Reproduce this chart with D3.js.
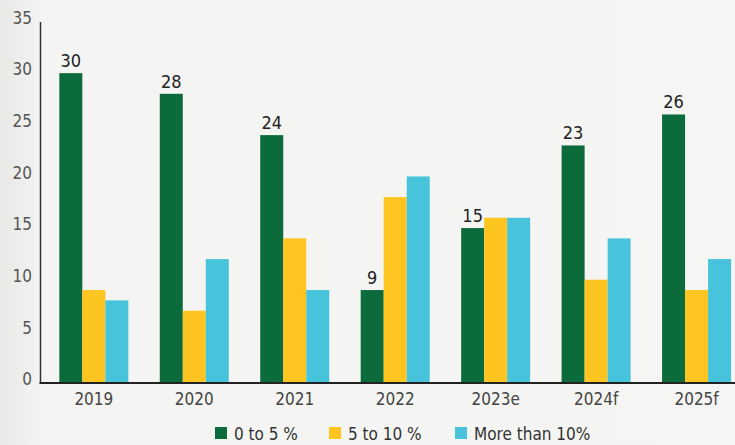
<!DOCTYPE html>
<html>
<head>
<meta charset="utf-8">
<script src="https://cdn.jsdelivr.net/npm/d3@7"></script>
<style>
  html, body { margin: 0; padding: 0; }
  body { width: 735px; height: 445px; overflow: hidden;
         background: linear-gradient(to right, #e8e8e7 0px, #f4f4f2 40px, #f5f5f3 100%); }
  svg { display: block; }
  text { font-family: "DejaVu Sans Condensed", "Liberation Sans Narrow", sans-serif; }
</style>
</head>
<body>
<svg id="chart"></svg>
<script>
const width = 735;
const height = 445;

const years = ['2019', '2020', '2021', '2022', '2023e', '2024f', '2025f'];
const seriesNames = ['0 to 5 %', '5 to 10 %', 'More than 10%'];
const low = [30, 28, 24, 9, 15, 23, 26];
const mid = [9, 7, 14, 18, 16, 10, 9];
const high = [8, 12, 9, 20, 16, 14, 12];
const yTicks = [0, 5, 10, 15, 20, 25, 30, 35];

const colors = ['#0c6b3b', '#fec520', '#47c4dc'];
const series = [low, mid, high];

const svg = d3.select('#chart')
            .attr('width', width)
            .attr('height', height);

const x = d3.scaleBand().domain(years).range([43.6, 746.8])
            .paddingInner(0.313).paddingOuter(0.1565);
const xSub = d3.scaleBand().domain(d3.range(3)).range([0, x.bandwidth()]);
const y = d3.scaleLinear().domain([0, 35]).range([383, 21.5]);

// bars
const groups = svg.selectAll('g.year').data(years)
    .enter().append('g')
    .attr('class', 'year')
    .attr('transform', d => `translate(${x(d)},0)`);

groups.selectAll('rect')
    .data((d, i) => series.map((s, k) => ({k: k, v: s[i]})))
    .enter().append('rect')
    .attr('x', d => xSub(d.k))
    .attr('y', d => y(d.v))
    .attr('width', xSub.bandwidth())
    .attr('height', d => y(0) - y(d.v))
    .attr('fill', d => colors[d.k]);

// labels above the green bars
svg.selectAll('text.value').data(years)
    .enter().append('text')
    .attr('class', 'value')
    .attr('x', (d, i) => x(d) + xSub(0) + xSub.bandwidth() / 2)
    .attr('y', (d, i) => y(low[i]) - 6)
    .attr('text-anchor', 'middle')
    .attr('font-size', 18)
    .attr('fill', '#222')
    .text((d, i) => low[i]);

// y axis
const yAxis = svg.append('g').attr('transform', 'translate(40,0)')
    .call(d3.axisLeft(y).tickValues(yTicks).tickSize(0).tickPadding(8));
yAxis.select('.domain').attr('stroke', '#333').attr('stroke-width', 1.5);
yAxis.selectAll('text')
    .attr('font-size', 17)
    .attr('fill', '#555')
    .attr('dy', '0.1em');

// x axis
const xAxis = svg.append('g').attr('transform', `translate(0,${y(0)})`)
    .call(d3.axisBottom(x).tickSize(0).tickPadding(10));
xAxis.select('.domain').attr('d', `M39.5,0H${width}`)
    .attr('stroke', '#222').attr('stroke-width', 2);
xAxis.selectAll('text')
    .attr('font-size', 17)
    .attr('fill', '#444');

// legend
const legendX = [215, 329, 455];
const legend = svg.selectAll('g.legend').data(seriesNames)
    .enter().append('g')
    .attr('class', 'legend')
    .attr('transform', (d, i) => `translate(${legendX[i]},427)`);
legend.append('rect')
    .attr('width', 12).attr('height', 12)
    .attr('fill', (d, i) => colors[i]);
legend.append('text')
    .attr('x', 19).attr('y', 12.5)
    .attr('font-size', 17)
    .attr('fill', '#333')
    .text(d => d);
</script>
</body>
</html>
